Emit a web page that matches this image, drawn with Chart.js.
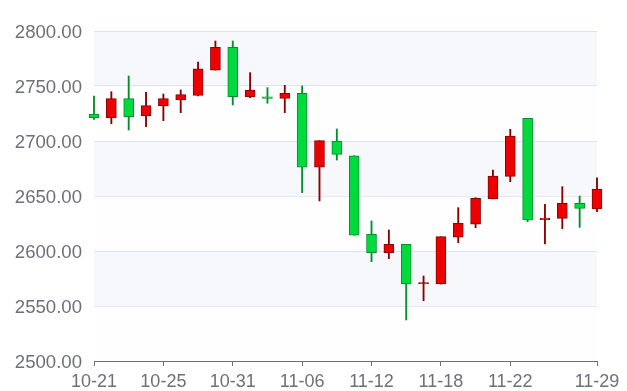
<!DOCTYPE html>
<html>
<head>
<meta charset="utf-8">
<script src="https://cdn.jsdelivr.net/npm/chart.js@4/dist/chart.umd.min.js"></script>
<style>
html,body{margin:0;padding:0;background:#fff;}
#wrap{width:627px;height:391px;position:relative;}
</style>
</head>
<body>
<div id="wrap"><canvas id="c" width="627" height="391"></canvas></div>
<script>
const dates = ['10-21','10-22','10-23','10-24','10-25','10-28','10-29','10-30','10-31','11-01',
  '11-04','11-05','11-06','11-07','11-08','11-11','11-12','11-13','11-14','11-15',
  '11-18','11-19','11-20','11-21','11-22','11-25','11-26','11-27','11-28','11-29'];
const opens  = [2724.5,2721.2,2738.5,2722.7,2731.8,2737.3,2741.5,2764.5,2785.2,2740.0,
  2740.2,2738.8,2743.4,2676.1,2700.0,2686.6,2615.2,2598.5,2606.1,2570.0,
  2570.0,2612.5,2624.5,2647.3,2667.9,2720.6,2628.5,2629.7,2643.4,2638.2];
const closes = [2721.2,2738.5,2722.1,2732.1,2738.5,2742.1,2765.5,2785.2,2740.3,2746.4,
  2738.8,2743.4,2676.1,2700.3,2687.9,2614.3,2598.5,2606.1,2570.0,2571.3,
  2613.0,2625.2,2647.9,2668.2,2704.5,2628.2,2630.0,2643.4,2638.8,2656.4];
const lows   = [2719.7,2715.7,2710.0,2713.0,2718.5,2725.7,2740.9,2764.5,2732.7,2739.4,
  2734.3,2725.7,2653.0,2645.5,2682.7,2614.3,2590.3,2593.0,2537.3,2554.8,
  2570.0,2607.5,2621.2,2647.3,2663.0,2626.6,2606.4,2620.3,2621.5,2635.7];
const highs  = [2740.9,2744.8,2759.1,2744.3,2742.7,2746.4,2771.8,2790.9,2790.9,2762.1,
  2748.5,2750.6,2750.0,2700.3,2710.9,2686.6,2627.3,2619.1,2606.1,2577.3,
  2613.0,2639.4,2648.5,2673.6,2710.6,2720.6,2642.4,2658.5,2650.0,2666.6];
const yTicks = [2500,2550,2600,2650,2700,2750,2800];
const labelIdx = [0,4,8,12,16,20,24,29];

const UP = '#ec0000', UP_B = '#8A0000', DN = '#00da3c', DN_B = '#008F28';
const isUp = opens.map((o,i)=>closes[i] >= o);

const splitArea = {
  id:'splitArea',
  beforeDatasetsDraw(chart){
    const {ctx, chartArea:a, scales:{y}} = chart;
    const cols = ['rgba(250,250,250,0.2)','rgba(210,219,238,0.2)'];
    ctx.save();
    for(let i=0;i<yTicks.length-1;i++){
      const y0 = y.getPixelForValue(yTicks[i]);
      const y1 = y.getPixelForValue(yTicks[i+1]);
      ctx.fillStyle = cols[i%2];
      ctx.fillRect(a.left, y1, a.right-a.left, y0-y1);
    }
    ctx.restore();
  }
};

const FAMILY = '"Liberation Sans", Arial, sans-serif';

new Chart(document.getElementById('c'), {
  type:'bar',
  data:{
    labels: dates,
    datasets:[
      {
        label:'body',
        data: opens.map((o,i)=>[o, closes[i]]),
        backgroundColor: isUp.map(u=>u?UP:DN),
        borderColor: isUp.map(u=>u?UP_B:DN_B),
        borderWidth:1,
        borderSkipped:false,
        barThickness:10,
        grouped:false,
        order:0,
        clip:false
      },
      {
        label:'wick',
        data: lows.map((l,i)=>[l, highs[i]]),
        backgroundColor: isUp.map(u=>u?UP_B:DN_B),
        borderWidth:0,
        barThickness:1.2,
        grouped:false,
        order:1,
        clip:false
      }
    ]
  },
  options:{
    responsive:false,
    animation:false,
    events:[],
    layout:{padding:{top:31,right:30,left:0,bottom:0}},
    plugins:{legend:{display:false}, tooltip:{enabled:false}},
    scales:{
      x:{
        offset:false,
        grid:{
          offset:false,
          drawOnChartArea:false,
          drawTicks:true,
          tickLength:5,
          color:(ctx)=> labelIdx.includes(ctx.index) ? '#6E7079' : 'rgba(0,0,0,0)',
          lineWidth:1
        },
        border:{display:true,color:'#6E7079',width:1},
        ticks:{
          autoSkip:false,
          maxRotation:0,
          minRotation:0,
          padding:5,
          color:'#6E7079',
          font:{family:FAMILY,size:18},
          callback:(v,i)=> labelIdx.includes(i) ? dates[i] : ''
        },
        afterFit:(s)=>{ s.height = 30; }
      },
      y:{
        min:2500,max:2800,
        afterBuildTicks:(s)=>{ s.ticks = yTicks.map(v=>({value:v})); },
        grid:{color:'#E0E6F1', drawTicks:false, lineWidth:1},
        border:{display:false},
        ticks:{
          padding:12,
          labelOffset:1.5,
          color:'#6E7079',
          font:{family:FAMILY,size:18.6},
          callback:(v)=> Number(v).toFixed(2)
        },
        afterFit:(s)=>{ s.width = 94; }
      }
    }
  },
  plugins:[splitArea]
});
</script>
</body>
</html>
